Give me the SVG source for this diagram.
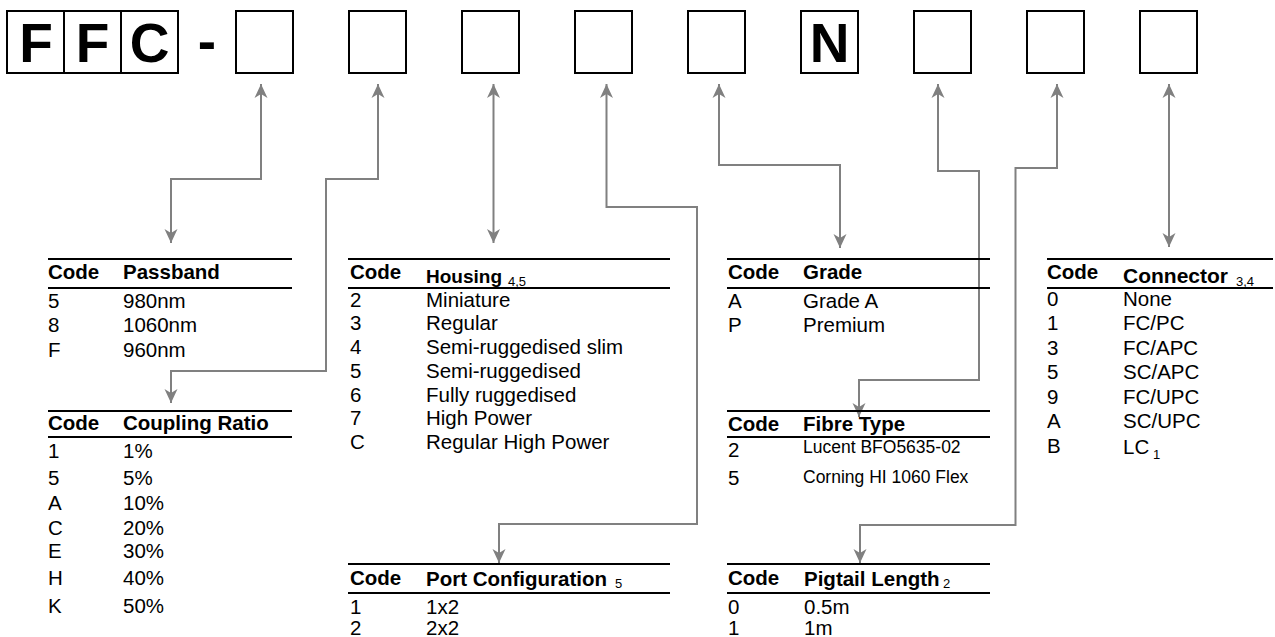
<svg xmlns="http://www.w3.org/2000/svg" width="1275" height="637" viewBox="0 0 1275 637">
<style>
.box{fill:none;stroke:#000;stroke-width:2}
.big{font-family:"Liberation Sans",Arial,sans-serif;font-weight:bold;font-size:55px;text-anchor:middle;fill:#000}
.rule{stroke:#000;stroke-width:2}
.hd{font-family:"Liberation Sans",Arial,sans-serif;font-weight:bold;font-size:20.5px;fill:#000}
.tx{font-family:"Liberation Sans",Arial,sans-serif;font-size:20.5px;fill:#000}
.sm{font-family:"Liberation Sans",Arial,sans-serif;font-size:17.5px;fill:#000}
.sub{font-family:"Liberation Sans",Arial,sans-serif;font-size:13px;font-weight:normal;fill:#000}
.conn{fill:none;stroke:#808080;stroke-width:2;marker-start:url(#ah);marker-end:url(#ah)}
</style>
<defs>
<marker id="ah" viewBox="0 0 14 14" refX="14" refY="7" markerWidth="14" markerHeight="14" markerUnits="userSpaceOnUse" orient="auto-start-reverse">
<path d="M0,0.5 L14,7 L0,13.5 L4,7 Z" fill="#808080"/>
</marker>
</defs>
<rect width="1275" height="637" fill="#fff"/>

<g id="code-boxes">
<g id="box-F1"><rect class="box" x="7" y="11" width="57" height="62"/><text class="big" x="36" y="62">F</text></g>
<g id="box-F2"><rect class="box" x="64" y="11" width="57" height="62"/><text class="big" x="92.5" y="62">F</text></g>
<g id="box-C"><rect class="box" x="121" y="11" width="57" height="62"/><text class="big" x="149.5" y="62">C</text></g>
<g id="dash"><text class="big" x="207" y="60">-</text></g>
<g id="box-1"><rect class="box" x="236" y="11" width="57" height="62"/></g>
<g id="box-2"><rect class="box" x="349" y="11" width="57" height="62"/></g>
<g id="box-3"><rect class="box" x="462" y="11" width="57" height="62"/></g>
<g id="box-4"><rect class="box" x="575" y="11" width="57" height="62"/></g>
<g id="box-5"><rect class="box" x="688" y="11" width="57" height="62"/></g>
<g id="box-N"><rect class="box" x="801" y="11" width="57" height="62"/><text class="big" x="829.5" y="62">N</text></g>
<g id="box-7"><rect class="box" x="914" y="11" width="57" height="62"/></g>
<g id="box-8"><rect class="box" x="1027" y="11" width="57" height="62"/></g>
<g id="box-9"><rect class="box" x="1140" y="11" width="57" height="62"/></g>
</g>

<g id="connectors">
<path class="conn" d="M261,84 V179 H171 V243"/>
<path class="conn" d="M378,84 V179 H326 V371 H171 V403"/>
<path class="conn" d="M493.5,84 V243"/>
<path class="conn" d="M606.5,84 V207 H697 V524 H499 V563"/>
<path class="conn" d="M719,84 V165 H840 V248"/>
<path class="conn" d="M938,84 V171 H979 V380 H859 V417"/>
<path class="conn" d="M1057,84 V168 H1015.5 V525 H860 V563"/>
<path class="conn" d="M1169,84 V247"/>
</g>

<g id="table-passband">
<line class="rule" x1="48" y1="259" x2="292" y2="259"/>
<line class="rule" x1="48" y1="288" x2="292" y2="288"/>
<text class="hd" x="48" y="279">Code</text><text class="hd" x="123" y="279">Passband</text>
<text class="tx" x="48" y="308">5</text><text class="tx" x="123" y="308">980nm</text>
<text class="tx" x="48" y="332">8</text><text class="tx" x="123" y="332">1060nm</text>
<text class="tx" x="48" y="357">F</text><text class="tx" x="123" y="357">960nm</text>
</g>

<g id="table-coupling">
<line class="rule" x1="48" y1="411" x2="292" y2="411"/>
<line class="rule" x1="48" y1="437" x2="292" y2="437"/>
<text class="hd" x="48" y="430">Code</text><text class="hd" x="123" y="430">Coupling Ratio</text>
<text class="tx" x="48" y="458">1</text><text class="tx" x="123" y="458">1%</text>
<text class="tx" x="48" y="485">5</text><text class="tx" x="123" y="485">5%</text>
<text class="tx" x="48" y="510">A</text><text class="tx" x="123" y="510">10%</text>
<text class="tx" x="48" y="535">C</text><text class="tx" x="123" y="535">20%</text>
<text class="tx" x="48" y="558">E</text><text class="tx" x="123" y="558">30%</text>
<text class="tx" x="48" y="585">H</text><text class="tx" x="123" y="585">40%</text>
<text class="tx" x="48" y="613">K</text><text class="tx" x="123" y="613">50%</text>
</g>

<g id="table-housing">
<line class="rule" x1="348" y1="259" x2="670" y2="259"/>
<line class="rule" x1="348" y1="288" x2="670" y2="288"/>
<text class="hd" x="350" y="279">Code</text><text class="hd" x="426" y="283" style="font-size:19px">Housing</text><text class="sub" x="508" y="285.5">4,5</text>
<text class="tx" x="350" y="307">2</text><text class="tx" x="426" y="307">Miniature</text>
<text class="tx" x="350" y="330">3</text><text class="tx" x="426" y="330">Regular</text>
<text class="tx" x="350" y="354">4</text><text class="tx" x="426" y="354">Semi-ruggedised slim</text>
<text class="tx" x="350" y="378">5</text><text class="tx" x="426" y="378">Semi-ruggedised</text>
<text class="tx" x="350" y="402">6</text><text class="tx" x="426" y="402">Fully ruggedised</text>
<text class="tx" x="350" y="425">7</text><text class="tx" x="426" y="425">High Power</text>
<text class="tx" x="350" y="449">C</text><text class="tx" x="426" y="449">Regular High Power</text>
</g>

<g id="table-grade">
<line class="rule" x1="727" y1="259" x2="990" y2="259"/>
<line class="rule" x1="727" y1="288" x2="990" y2="288"/>
<text class="hd" x="728" y="279">Code</text><text class="hd" x="803" y="279">Grade</text>
<text class="tx" x="728" y="308">A</text><text class="tx" x="803" y="308">Grade A</text>
<text class="tx" x="728" y="332">P</text><text class="tx" x="803" y="332">Premium</text>
</g>

<g id="table-fibre">
<line class="rule" x1="727" y1="411" x2="990" y2="411"/>
<line class="rule" x1="727" y1="437" x2="990" y2="437"/>
<text class="hd" x="728" y="431">Code</text><text class="hd" x="803" y="431">Fibre Type</text>
<text class="tx" x="728" y="457">2</text><text class="sm" x="803" y="453">Lucent BFO5635-02</text>
<text class="tx" x="728" y="485">5</text><text class="sm" x="803" y="483">Corning HI 1060 Flex</text>
</g>

<g id="table-connector">
<line class="rule" x1="1047" y1="259" x2="1273" y2="259"/>
<line class="rule" x1="1047" y1="288" x2="1273" y2="288"/>
<text class="hd" x="1047" y="279">Code</text><text class="hd" x="1123" y="283" style="font-size:21px">Connector</text><text class="sub" x="1236" y="285.5">3,4</text>
<text class="tx" x="1047" y="306">0</text><text class="tx" x="1123" y="306">None</text>
<text class="tx" x="1047" y="330">1</text><text class="tx" x="1123" y="330">FC/PC</text>
<text class="tx" x="1047" y="355">3</text><text class="tx" x="1123" y="355">FC/APC</text>
<text class="tx" x="1047" y="379">5</text><text class="tx" x="1123" y="379">SC/APC</text>
<text class="tx" x="1047" y="404">9</text><text class="tx" x="1123" y="404">FC/UPC</text>
<text class="tx" x="1047" y="428">A</text><text class="tx" x="1123" y="428">SC/UPC</text>
<text class="tx" x="1047" y="453">B</text><text class="tx" x="1123" y="454">LC</text><text class="sub" x="1153" y="459">1</text>
</g>

<g id="table-port">
<line class="rule" x1="348" y1="564" x2="670" y2="564"/>
<line class="rule" x1="348" y1="593" x2="670" y2="593"/>
<text class="hd" x="350" y="585">Code</text><text class="hd" x="426" y="586">Port Configuration</text><text class="sub" x="615" y="588">5</text>
<text class="tx" x="350" y="614">1</text><text class="tx" x="426" y="614">1x2</text>
<text class="tx" x="350" y="635">2</text><text class="tx" x="426" y="635">2x2</text>
</g>

<g id="table-pigtail">
<line class="rule" x1="727" y1="564" x2="990" y2="564"/>
<line class="rule" x1="727" y1="593" x2="990" y2="593"/>
<text class="hd" x="728" y="585">Code</text><text class="hd" x="804" y="586">Pigtail Length</text><text class="sub" x="943" y="588">2</text>
<text class="tx" x="728" y="614">0</text><text class="tx" x="804" y="614">0.5m</text>
<text class="tx" x="728" y="635">1</text><text class="tx" x="804" y="635">1m</text>
</g>
</svg>
